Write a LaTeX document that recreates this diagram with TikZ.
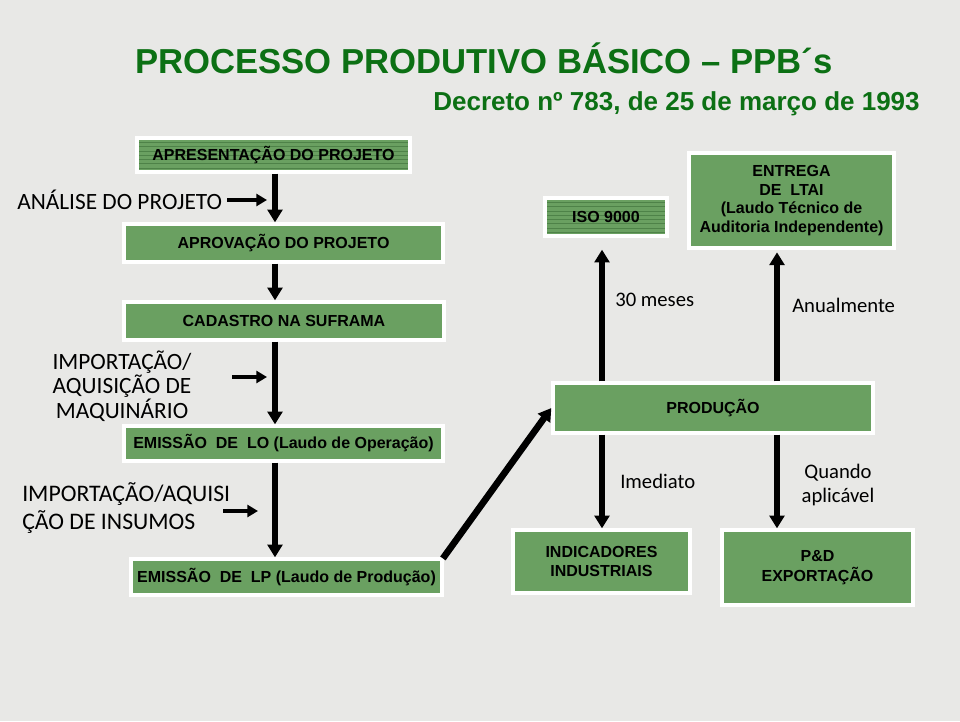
\documentclass[tikz,border=0pt]{standalone}
\usepackage{fontspec}
\setmainfont{Liberation Sans}
\newfontfamily\calibri{Carlito}
\usetikzlibrary{arrows.meta}

\definecolor{paper}{RGB}{232,232,230}
\definecolor{boxgreen}{RGB}{106,160,97}
\definecolor{stripegreen}{RGB}{78,130,72}
\definecolor{titlegreen}{RGB}{12,112,20}

\def\px{0.75pt}

\begin{document}
\begin{tikzpicture}[x=\px,y=-\px]
    \tikzstyle{box}=[draw=white, line width=2.5pt, fill=boxgreen, inner sep=0pt, align=center, font=\bfseries\fontsize{12}{14}\selectfont]
    \tikzstyle{striped}=[box, path picture={
        \foreach \k in {1,...,9}
            \draw[stripegreen, line width=0.5pt] ([yshift=-\k*4.3*\px]path picture bounding box.north west) -- ([yshift=-\k*4.3*\px]path picture bounding box.north east);}]
    \tikzstyle{sidetext}=[inner sep=0pt, font=\calibri\fontsize{17.5}{18}\selectfont]
    \tikzstyle{notetext}=[inner sep=0pt, align=center, font=\calibri\fontsize{15.5}{18}\selectfont]
    \tikzstyle{bigarrow}=[-{Triangle[width=11pt,length=9.5pt]}, line width=5pt]
    \tikzstyle{smallarrow}=[-{Triangle[width=9pt,length=8pt]}, line width=3.5pt]

    % Paper
    \fill[paper] (0,0) rectangle (960,721);
    \useasboundingbox (0,0) rectangle (960,721);

    % Title
    \node[anchor=base west, inner sep=0pt, text=titlegreen, font=\bfseries\fontsize{26}{30}\selectfont] (title) at (135,73) {PROCESSO PRODUTIVO BÁSICO – PPB´s};
    \node[anchor=base east, inner sep=0pt, text=titlegreen, font=\bfseries\fontsize{19.5}{22}\selectfont] (decree) at (920,110) {Decreto nº 783, de 25 de março de 1993};

    % Left column of steps
    \node[striped, minimum width=273*\px, minimum height=34*\px] (apres) at (273.5,155) {APRESENTAÇÃO DO PROJETO};
    \node[box, minimum width=319*\px, minimum height=38*\px] (aprov) at (283.5,243) {APROVAÇÃO DO PROJETO};
    \node[box, minimum width=320*\px, minimum height=38*\px] (cad) at (284,321) {CADASTRO NA SUFRAMA};
    \node[box, minimum width=319*\px, minimum height=35*\px] (lo) at (283.5,443.5) {EMISSÃO~ DE~ LO (Laudo de Operação)};
    \node[box, minimum width=311*\px, minimum height=36*\px] (lp) at (286.5,577) {EMISSÃO~ DE~ LP (Laudo de Produção)};

    % Right side
    \node[striped, minimum width=122*\px, minimum height=38*\px] (iso) at (606,217) {ISO 9000};
    \node[box, minimum width=205*\px, minimum height=95*\px] (ltai) at (791.5,200.5) {ENTREGA\\DE~ LTAI\\(Laudo Técnico de\\Auditoria Independente)};
    \node[box, minimum width=320*\px, minimum height=50*\px] (prod) at (713,408) {PRODUÇÃO};
    \node[box, minimum width=177*\px, minimum height=63*\px] (ind) at (601.5,561.5) {INDICADORES\\INDUSTRIAIS};
    \node[box, minimum width=191*\px, minimum height=75*\px, font=\bfseries\fontsize{12}{15}\selectfont] (pd) at (817.5,567.5) {P\&D\\EXPORTAÇÃO};

    % Side texts
    \node[sidetext, anchor=west] (analise) at (17,200) {ANÁLISE DO PROJETO};
    \node[sidetext, align=center, font=\calibri\fontsize{17.5}{18.5}\selectfont] (maq) at (122,386) {IMPORTAÇÃO/\\AQUISIÇÃO DE\\MAQUINÁRIO};
    \node[sidetext, anchor=west, align=left, font=\calibri\fontsize{17.8}{21.5}\selectfont] (insumos) at (22,508) {IMPORTAÇÃO/AQUISI\\ÇÃO DE INSUMOS};
    \node[notetext, anchor=west] (meses) at (615,300) {30 meses};
    \node[notetext, anchor=west] (anual) at (792,305) {Anualmente};
    \node[notetext, anchor=west] (imed) at (620,481) {Imediato};
    \node[notetext] (quando) at (838,485) {Quando\\aplicável};

    % Columns of the arrows
    \coordinate (spine) at (275,0);
    \coordinate (colA) at (602,0);
    \coordinate (colB) at (777,0);

    % Main flow
    \draw[bigarrow] (apres.south -| spine) -- (aprov.north -| spine);
    \draw[bigarrow] (aprov.south -| spine) -- (cad.north -| spine);
    \draw[bigarrow] (cad.south -| spine) -- (lo.north -| spine);
    \draw[bigarrow] (lo.south -| spine) -- (lp.north -| spine);
    \draw[bigarrow, shorten <=-1pt] (lp.north east) -- (prod.west);

    % From the production
    \draw[bigarrow, shorten >=9pt] (prod.north -| colA) -- (iso.south -| colA);
    \draw[bigarrow, shorten >=2pt] (prod.north -| colB) -- (ltai.south -| colB);
    \draw[bigarrow] (prod.south -| colA) -- (ind.north -| colA);
    \draw[bigarrow] (prod.south -| colB) -- (pd.north -| colB);

    % Inputs to the main flow
    \coordinate (a1) at (227,200);
    \coordinate (b1) at (267,200);
    \coordinate (a2) at (232,377);
    \coordinate (b2) at (267,377);
    \coordinate (a3) at (223,511);
    \coordinate (b3) at (258,511);
    \draw[smallarrow] (a1) -- (b1);
    \draw[smallarrow] (a2) -- (b2);
    \draw[smallarrow] (a3) -- (b3);
\end{tikzpicture}
\end{document}
